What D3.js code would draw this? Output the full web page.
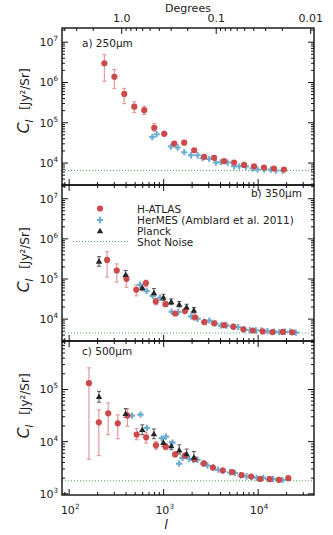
<!DOCTYPE html>
<html>
<head>
<meta charset="utf-8">
<script src="https://cdn.jsdelivr.net/npm/d3@7"></script>
<style>
  body { margin: 0; background: #fff; }
  svg { font-family: "DejaVu Sans", "Liberation Sans", sans-serif; }
</style>
</head>
<body>
<div id="chart"></div>
<script>
// ---- data ----
// H-ATLAS (red circles)
const atlasL250 = [236, 301, 383, 489, 623, 795, 1014, 1293, 1649, 2103, 2681, 3419, 4360, 5560, 7090, 9040, 11530, 14700, 18750];
const atlasC250 = [3.0e6, 1.38e6, 5.2e5, 2.5e5, 2.05e5, 7.5e4, 5.3e4, 3.05e4, 3.2e4, 2.08e4, 1.43e4, 1.35e4, 1.11e4, 1.03e4, 9.0e3, 8.3e3, 7.7e3, 7.3e3, 6.9e3];
const atlasLo250 = [1.07e6, 7.1e5, 3.0e5, 1.8e5, 1.6e5, 6.2e4, 4.9e4, 2.9e4, 3.05e4, 2.0e4, 1.38e4, 1.3e4, 1.07e4, 1.0e4, 8.8e3, 8.1e3, 7.5e3, 7.1e3, 6.7e3];
const atlasHi250 = [4.9e6, 2.1e6, 7.1e5, 3.3e5, 2.6e5, 9.6e4, 5.8e4, 3.2e4, 3.35e4, 2.16e4, 1.48e4, 1.4e4, 1.15e4, 1.06e4, 9.2e3, 8.5e3, 7.9e3, 7.5e3, 7.1e3];

const atlasL350 = [252, 319, 404, 513, 650, 826, 1045, 1326, 1679, 2142, 2699, 3427, 4364, 5470, 6980, 8790, 11160, 14200, 18240, 23000];
const atlasC350 = [2.98e5, 1.63e5, 1.01e5, 5.4e4, 7.9e4, 2.76e4, 2.36e4, 1.38e4, 1.59e4, 1.1e4, 8.4e3, 7.85e3, 7.05e3, 6.5e3, 5.6e3, 5.2e3, 4.94e3, 4.75e3, 4.8e3, 4.7e3];
const atlasLo350 = [1.12e5, 8.4e4, 6.2e4, 3.8e4, 6.4e4, 2.27e4, 2.1e4, 1.27e4, 1.48e4, 1.04e4, 8.0e3, 7.5e3, 6.8e3, 6.3e3, 5.4e3, 5.0e3, 4.8e3, 4.6e3, 4.65e3, 4.55e3];
const atlasHi350 = [4.8e5, 2.38e5, 1.3e5, 7.0e4, 9.3e4, 3.3e4, 2.6e4, 1.5e4, 1.7e4, 1.16e4, 8.8e3, 8.2e3, 7.3e3, 6.7e3, 5.8e3, 5.4e3, 5.1e3, 4.9e3, 4.95e3, 4.85e3];

const atlasL500 = [162, 206, 259, 327, 414, 518, 653, 829, 1050, 1324, 1679, 2130, 2665, 3320, 4215, 5310, 6680, 8435, 10500, 13300, 16630, 20850];
const atlasC500 = [1.32e5, 2.35e4, 3.5e4, 2.25e4, 3.16e4, 1.37e4, 1.21e4, 8.5e3, 8.0e3, 5.7e3, 5.4e3, 4.6e3, 3.83e3, 3.19e3, 2.8e3, 2.61e3, 2.29e3, 2.15e3, 1.93e3, 1.92e3, 1.86e3, 2.0e3];
const atlasLo500 = [4.6e3, 5.4e3, 1.36e4, 1.14e4, 1.97e4, 1.09e4, 9.4e3, 7.2e3, 7.0e3, 5.2e3, 5.0e3, 4.35e3, 3.65e3, 3.05e3, 2.7e3, 2.52e3, 2.2e3, 2.07e3, 1.86e3, 1.85e3, 1.8e3, 1.92e3];
const atlasHi500 = [2.6e5, 4.1e4, 5.5e4, 3.26e4, 4.25e4, 1.78e4, 1.51e4, 1.0e4, 9.2e3, 6.3e3, 5.9e3, 4.9e3, 4.0e3, 3.35e3, 2.9e3, 2.7e3, 2.38e3, 2.23e3, 2.0e3, 1.99e3, 1.92e3, 2.08e3];

// HerMES, Amblard et al. 2011 (blue)
const hermesL250 = [758, 843, 1014, 1194, 1406, 1651, 1944, 2287, 2583, 3034, 3572, 4033, 4750, 5575, 6300, 7414, 8730, 9860, 11570, 13620, 15390, 18110];
const hermesC250 = [4.4e4, 5.2e4, 5.4e4, 2.57e4, 2.43e4, 1.86e4, 1.56e4, 1.56e4, 1.32e4, 1.27e4, 1.03e4, 1.05e4, 1.03e4, 8.3e3, 8.3e3, 8.2e3, 7.3e3, 6.9e3, 7.0e3, 6.9e3, 6.5e3, 6.5e3];

const hermesL350 = [562, 661, 765, 914, 1076, 1216, 1427, 1680, 1959, 2287, 2686, 3050, 3530, 4034, 4637, 5443, 6150, 7115, 8170, 9460, 10870, 12570, 14750, 16740, 19150, 21790, 25040];
const hermesC350 = [7.2e4, 5.0e4, 3.8e4, 3.4e4, 2.4e4, 1.53e4, 1.5e4, 1.66e4, 1.17e4, 1.02e4, 8.6e3, 9.2e3, 7.8e3, 6.9e3, 6.9e3, 6.4e3, 6.3e3, 5.5e3, 5.3e3, 5.2e3, 5.2e3, 5.0e3, 4.9e3, 4.75e3, 4.85e3, 4.85e3, 4.6e3];

const hermesL500 = [462, 569, 666, 829, 953, 1058, 1239, 1459, 1581, 1700, 1866, 2056, 2277, 2602, 2904, 3344, 3776, 4267, 5024, 5676, 6518, 7540, 8515, 9620, 11300, 12760, 14410, 16260, 18110];
const hermesC500 = [3.16e4, 3.3e4, 1.84e4, 8.5e3, 1.16e4, 1.25e4, 9.6e3, 3.8e3, 4.9e3, 5.5e3, 4.7e3, 4.5e3, 4.5e3, 3.8e3, 3.5e3, 3.2e3, 2.9e3, 2.8e3, 2.57e3, 2.5e3, 2.25e3, 2.15e3, 2.1e3, 2.03e3, 2.03e3, 1.92e3, 1.94e3, 1.86e3, 1.83e3];

// Planck (black triangles)
const planckL = [207, 396, 594, 789, 995, 1203, 1462, 1750, 2090];
const planckC350 = [2.76e5, 1.28e5, 6.1e4, 4.5e4, 3.46e4, 2.7e4, 2.33e4, 1.99e4, 1.66e4];
const planckLo350 = [2.08e5, 1.06e5, 5.1e4, 3.8e4, 2.9e4, 2.3e4, 2.0e4, 1.7e4, 1.42e4];
const planckHi350 = [3.6e5, 1.63e5, 7.4e4, 5.8e4, 4.15e4, 3.2e4, 2.75e4, 2.35e4, 1.95e4];
const planckC500 = [7.3e4, 3.45e4, 1.7e4, 1.41e4, 9.6e3, 8.3e3, 6.9e3, 5.8e3, 5.0e3];
const planckLo500 = [5.7e4, 2.93e4, 1.36e4, 1.14e4, 8.1e3, 7.0e3, 5.8e3, 4.9e3, 4.2e3];
const planckHi500 = [9.2e4, 4.3e4, 2.1e4, 1.75e4, 1.18e4, 1.0e4, 8.7e3, 7.2e3, 6.5e3];

// shot-noise levels
const shotNoise = [6.5e3, 4.5e3, 1.78e3];

// axis ticks
const xTicks = [1e2, 1e3, 1e4];
const degTicks = [1.0, 0.1, 0.01];
const degLabels = ["1.0", "0.1", "0.01"];

const legendLabels = ["H-ATLAS", "HerMES (Amblard et al. 2011)", "Planck", "Shot Noise"];

// ---- layout ----
const W = 333, H = 535;
const left = 62, right = 314;
const panels = [
  {top: 28, bottom: 185, domain: [2.85e3, 2.25e7], yticks: [1e4, 1e5, 1e6, 1e7], label: "a) 250\u03bcm", labelX: 82, labelY: 47, anchor: "start", labelMid: 101,
   atlas: [atlasL250, atlasC250, atlasLo250, atlasHi250], hermes: [hermesL250, hermesC250], planck: null, shot: shotNoise[0]},
  {top: 185, bottom: 341, domain: [2.85e3, 2.2e7], yticks: [1e4, 1e5, 1e6, 1e7], label: "b) 350\u03bcm", labelX: 302, labelY: 197, anchor: "end", labelMid: 260,
   atlas: [atlasL350, atlasC350, atlasLo350, atlasHi350], hermes: [hermesL350, hermesC350], planck: [planckL, planckC350, planckLo350, planckHi350], shot: shotNoise[1]},
  {top: 341, bottom: 495, domain: [950, 8.5e5], yticks: [1e3, 1e4, 1e5], label: "c) 500\u03bcm", labelX: 82, labelY: 355, anchor: "start", labelMid: 406,
   atlas: [atlasL500, atlasC500, atlasLo500, atlasHi500], hermes: [hermesL500, hermesC500], planck: [planckL, planckC500, planckLo500, planckHi500], shot: shotNoise[2]}
];

const red = "#cd4a4c", redErr = "#e59a9b";
const blue = "#6badd0";
const black = "#262626";
const green = "#4fa34f";
const textCol = "#222";

const svg = d3.select("#chart").append("svg")
  .attr("width", W).attr("height", H);

const x = d3.scaleLog().domain([84, 39000]).range([left, right]);

// minor tick values of a log scale between two bounds
function logMinors(lo, hi) {
  const out = [];
  for (let e = Math.floor(Math.log10(lo)); e <= Math.ceil(Math.log10(hi)); e++) {
    for (let k = 1; k <= 9; k++) {
      const v = k * Math.pow(10, e);
      if (v >= lo && v <= hi) out.push({v, major: k === 1});
    }
  }
  return out;
}

const xMinor = logMinors(84, 39000);
const triangle = d3.symbol(d3.symbolTriangle, 18);
const plus = d3.symbol(d3.symbolCross, 22);

function sup(sel, base, exp, size) {
  sel.append("tspan").text(base);
  sel.append("tspan").attr("dy", -5).attr("font-size", size * 0.65).text(exp);
}

panels.forEach((p, i) => {
  const y = d3.scaleLog().domain(p.domain).range([p.bottom, p.top]);
  const g = svg.append("g");

  // shot noise
  g.append("line")
    .attr("x1", left).attr("x2", right)
    .attr("y1", y(p.shot)).attr("y2", y(p.shot))
    .attr("stroke", green).attr("stroke-width", 1)
    .attr("stroke-dasharray", "1,2");

  // H-ATLAS error bars + points
  const [aL, aC, aLo, aHi] = p.atlas;
  const atlasData = aL.map((l, j) => ({l, c: aC[j], lo: aLo[j], hi: aHi[j]}));
  const eb = g.append("g").attr("stroke", redErr).attr("stroke-width", 1.2);
  atlasData.forEach(d => {
    eb.append("line").attr("x1", x(d.l)).attr("x2", x(d.l)).attr("y1", y(d.lo)).attr("y2", y(d.hi));
    eb.append("line").attr("x1", x(d.l) - 2).attr("x2", x(d.l) + 2).attr("y1", y(d.lo)).attr("y2", y(d.lo));
    eb.append("line").attr("x1", x(d.l) - 2).attr("x2", x(d.l) + 2).attr("y1", y(d.hi)).attr("y2", y(d.hi));
  });

  // Planck error bars
  let planckData = [];
  if (p.planck) {
    const [pL, pC, pLo, pHi] = p.planck;
    planckData = pL.map((l, j) => ({l, c: pC[j], lo: pLo[j], hi: pHi[j]}));
    const pb = g.append("g").attr("stroke", "#555").attr("stroke-width", 1);
    planckData.forEach(d => {
      pb.append("line").attr("x1", x(d.l)).attr("x2", x(d.l)).attr("y1", y(d.lo)).attr("y2", y(d.hi));
      pb.append("line").attr("x1", x(d.l) - 2).attr("x2", x(d.l) + 2).attr("y1", y(d.lo)).attr("y2", y(d.lo));
      pb.append("line").attr("x1", x(d.l) - 2).attr("x2", x(d.l) + 2).attr("y1", y(d.hi)).attr("y2", y(d.hi));
    });
  }

  // HerMES
  const [hL, hC] = p.hermes;
  g.selectAll(".hermes").data(hL.map((l, j) => ({l, c: hC[j]}))).join("path")
    .attr("d", plus)
    .attr("transform", d => `translate(${x(d.l)},${y(d.c)})`)
    .attr("fill", blue);

  g.selectAll(".atlas").data(atlasData).join("circle")
    .attr("cx", d => x(d.l)).attr("cy", d => y(d.c)).attr("r", 3.1)
    .attr("fill", red);

  g.selectAll(".planck").data(planckData).join("path")
    .attr("d", triangle)
    .attr("transform", d => `translate(${x(d.l)},${y(d.c) + 0.5})`)
    .attr("fill", black);

  // frame
  g.append("rect")
    .attr("x", left).attr("y", p.top)
    .attr("width", right - left).attr("height", p.bottom - p.top)
    .attr("fill", "none").attr("stroke", "#111").attr("stroke-width", 1.4);

  // y ticks (inward, both sides)
  const yMinor = logMinors(p.domain[0], p.domain[1]);
  const tk = g.append("g").attr("stroke", "#111").attr("stroke-width", 1);
  yMinor.forEach(t => {
    const len = t.major ? 6 : 3;
    const yy = y(t.v);
    tk.append("line").attr("x1", left).attr("x2", left + len).attr("y1", yy).attr("y2", yy);
    tk.append("line").attr("x1", right).attr("x2", right - len).attr("y1", yy).attr("y2", yy);
  });
  // x ticks on bottom (inward) and top for lower panels
  xMinor.forEach(t => {
    const len = t.major ? 6 : 3;
    tk.append("line").attr("x1", x(t.v)).attr("x2", x(t.v)).attr("y1", p.bottom).attr("y2", p.bottom - len);
    if (i > 0) tk.append("line").attr("x1", x(t.v)).attr("x2", x(t.v)).attr("y1", p.top).attr("y2", p.top + len);
  });

  // y tick labels
  p.yticks.forEach(v => {
    const t = g.append("text")
      .attr("x", left - 4).attr("y", y(v) + 4)
      .attr("text-anchor", "end").attr("font-size", 11).attr("fill", textCol);
    sup(t, "10", String(Math.round(Math.log10(v))), 11);
  });

  // panel label
  g.append("text")
    .attr("x", p.labelX).attr("y", p.labelY)
    .attr("text-anchor", p.anchor).attr("font-size", 10.5).attr("fill", textCol)
    .text(p.label);

  // y axis title
  const yt = g.append("text")
    .attr("transform", `translate(29,${p.labelMid}) rotate(-90)`)
    .attr("text-anchor", "middle").attr("fill", textCol);
  yt.append("tspan").attr("font-size", 16).attr("font-style", "italic").text("C");
  yt.append("tspan").attr("font-size", 10).attr("font-style", "italic").attr("dy", 4).text("l");
  yt.append("tspan").attr("font-size", 12).attr("dy", -4).text("\u2002 [Jy\u00b2/Sr]");
});

// top axis in degrees (degrees = 360 / l)
const topY = panels[0].top;
const dtk = svg.append("g").attr("stroke", "#111").attr("stroke-width", 1);
[[1, 2, 3, 4], [0.1, 0.2, 0.3, 0.4, 0.5, 0.6, 0.7, 0.8, 0.9], [0.01, 0.02, 0.03, 0.04, 0.05, 0.06, 0.07, 0.08, 0.09]]
  .forEach(group => group.forEach((dg, k) => {
    const xx = x(360 / dg);
    if (xx < left || xx > right) return;
    dtk.append("line").attr("x1", xx).attr("x2", xx)
      .attr("y1", topY).attr("y2", topY + (k === 0 ? 6 : 3));
  }));
degTicks.forEach((dg, k) => {
  svg.append("text")
    .attr("x", x(360 / dg)).attr("y", 22)
    .attr("text-anchor", "middle").attr("font-size", 11).attr("fill", textCol)
    .text(degLabels[k]);
});
svg.append("text")
  .attr("x", 188).attr("y", 12)
  .attr("text-anchor", "middle").attr("font-size", 11).attr("fill", textCol)
  .text("Degrees");

// bottom axis labels
xTicks.forEach(v => {
  const t = svg.append("text")
    .attr("x", x(v) + 1).attr("y", 514)
    .attr("text-anchor", "middle").attr("font-size", 11).attr("fill", textCol);
  sup(t, "10", String(Math.round(Math.log10(v))), 11);
});
svg.append("text")
  .attr("x", 166).attr("y", 529)
  .attr("text-anchor", "middle").attr("font-size", 13).attr("font-style", "italic").attr("fill", textCol)
  .text("l");

// legend (inside panel b)
const lg = svg.append("g");
const rows = [208.5, 220, 231, 241.5];
lg.append("circle").attr("cx", 100).attr("cy", rows[0]).attr("r", 3.1).attr("fill", red);
lg.append("path").attr("d", plus).attr("transform", `translate(100,${rows[1]})`).attr("fill", blue);
lg.append("path").attr("d", triangle).attr("transform", `translate(100,${rows[2] + 0.5})`).attr("fill", black);
lg.append("line").attr("x1", 73).attr("x2", 130).attr("y1", rows[3]).attr("y2", rows[3])
  .attr("stroke", green).attr("stroke-width", 1).attr("stroke-dasharray", "1,2");
legendLabels.forEach((s, k) => {
  lg.append("text").attr("x", 137).attr("y", rows[k] + 4)
    .attr("font-size", 10.5).attr("fill", textCol).text(s);
});
</script>
</body>
</html>
